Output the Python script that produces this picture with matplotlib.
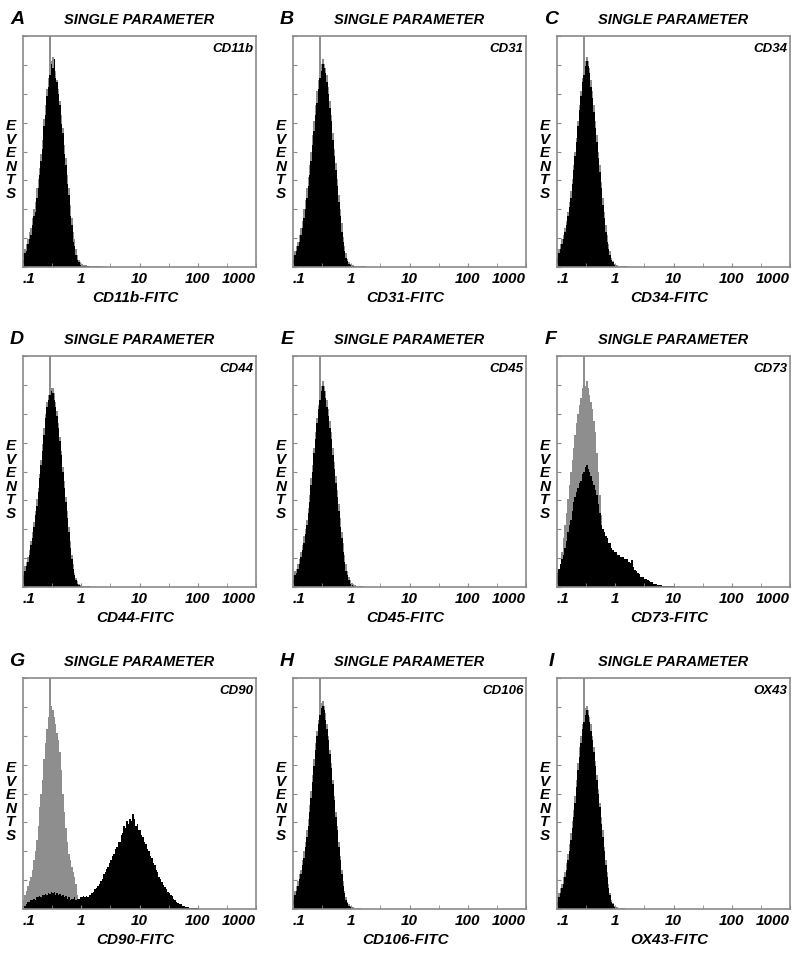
import numpy as np
import matplotlib
matplotlib.use("Agg")
import matplotlib.pyplot as plt
from matplotlib.ticker import FixedLocator, NullFormatter

# histogram counts, % of full scale, channels of 1/40 decade starting at 0.1
cd11b_black = [3, 6, 7, 10, 12, 14, 18, 22, 24, 30, 34, 40, 46, 51, 61, 66, 74, 78, 83, 88, 86, 90, 82, 80, 75,
               70, 62, 58, 49, 44, 36, 31, 22, 18, 11, 9, 5, 3, 2, 1, 0.5, 0.4, 0.3, 0.4, 0.3, 0.2]
cd11b_gray = [6, 8, 10, 12, 15, 17, 21, 25, 28, 34, 38, 43, 49, 55, 64, 70, 77, 82, 130, 89, 91, 88, 85, 81, 77,
              72, 66, 60, 53, 47, 40, 34, 27, 21, 15, 12, 8, 5, 3, 2, 1.3, 1, 0.8, 0.7, 0.6, 0.6, 0.5, 0.5, 0.4,
              0.4, 0.5, 0.3, 0.3, 0.4, 0.3, 0.2, 0.3, 0.2, 0.2, 0.2, 0.2]
cd31_black = [3, 5, 7, 9, 11, 14, 17, 21, 25, 30, 35, 40, 46, 53, 59, 66, 71, 77, 82, 85, 88, 86, 84, 80, 75, 69,
              63, 55, 48, 42, 35, 28, 22, 15, 11, 7, 4, 2.5, 1.5, 0.8, 0.5, 0.3]
cd31_gray = [5, 7, 9, 11, 14, 17, 20, 25, 29, 34, 39, 44, 50, 57, 63, 70, 76, 81, 130, 88, 90, 88, 86, 83, 78, 72,
             66, 58, 51, 45, 38, 31, 25, 19, 13, 9, 6, 3.5, 2.2, 1.3, 1, 0.7, 0.6, 0.5, 0.5, 0.4, 0.4, 0.3, 0.3,
             0.3, 0.2]
cd34_black = [4, 6, 8, 10, 12, 15, 18, 22, 26, 30, 36, 42, 48, 54, 61, 68, 74, 80, 83, 87, 89, 87, 84, 78, 73, 67,
              60, 54, 47, 41, 34, 27, 21, 15, 11, 8, 5, 3, 2, 1, 0.5]
cd34_gray = [6, 8, 10, 12, 14, 17, 20, 24, 28, 33, 38, 44, 50, 56, 63, 70, 76, 82, 130, 89, 91, 89, 86, 81, 76, 70,
             63, 57, 50, 44, 37, 30, 24, 18, 14, 10, 7, 4, 2.5, 1.5, 1, 0.7, 0.6, 0.5, 0.4, 0.4, 0.3, 0.3, 0.2]
cd44_black = [5, 7, 9, 11, 14, 18, 21, 26, 31, 35, 41, 47, 53, 59, 66, 73, 78, 81, 83, 85, 84, 81, 78, 74, 69, 63,
              57, 50, 43, 37, 30, 24, 17, 12, 8, 5, 3, 1.5, 1, 0.5]
cd44_gray = [7, 9, 11, 13, 16, 20, 24, 28, 33, 38, 43, 49, 55, 62, 69, 75, 80, 83, 130, 86, 86, 84, 80, 76, 71, 65,
             59, 52, 46, 39, 33, 26, 20, 14, 10, 6, 4, 2.5, 1.5, 1, 0.6, 0.5, 0.4, 0.4, 0.3, 0.3, 0.2]
cd45_black = [3, 5, 6, 8, 10, 13, 16, 19, 23, 27, 32, 37, 44, 50, 58, 64, 71, 77, 81, 85, 87, 85, 82, 78, 74, 69,
              64, 57, 51, 45, 39, 33, 26, 21, 15, 11, 7, 5, 3, 1.5, 1, 0.5]
cd45_gray = [5, 7, 8, 10, 12, 15, 18, 22, 25, 29, 34, 40, 47, 53, 60, 67, 73, 79, 130, 87, 89, 87, 85, 81, 77, 72,
             67, 60, 54, 48, 42, 36, 30, 24, 19, 14, 10, 7, 4.5, 3, 1.8, 1.2, 0.8, 0.6, 0.5, 0.4, 0.4, 0.3, 0.2]
cd73_black = [6, 8, 10, 12, 14, 17, 20, 24, 27, 29, 33, 37, 39, 41, 43, 45, 46, 49, 50, 52, 53, 51, 50, 48, 46,
              44, 42, 40, 36, 32, 27, 25, 24, 22, 21, 19, 19, 17, 16, 15, 15, 14, 14, 13, 13, 13, 12, 12, 12, 11,
              10.5, 11.5, 8.5, 7.5, 7, 6, 5.5, 4.5, 4.5, 4.5, 3.5, 3.5, 3, 2.5, 2, 2, 1.5, 1.5, 1.2, 1, 0.8, 0.8,
              0.6, 0.6, 0.5, 0.5, 0.4, 0.4, 0.3, 0.3, 0.3, 0.2]
cd73_gray = [4, 6, 10, 15, 21, 27, 32, 38, 44, 50, 55, 60, 66, 71, 75, 79, 82, 86, 130, 87, 89, 86, 83, 80, 77, 72,
             67, 58, 50, 40, 31, 25, 22, 18, 15, 12, 9, 7, 5, 3.5, 2.5, 1.8, 1.3, 1, 0.8, 0.7, 0.6, 0.5, 0.5, 0.4,
             0.4, 0.3, 0.3, 0.3, 0.2]
cd90_black = [0.5, 1.5, 2, 3, 3, 4, 4, 4.5, 4, 5, 5, 5.5, 5, 6, 6, 6.5, 6, 7, 6.5, 7.5, 7, 7.5, 6, 7, 6, 6.5, 5.5,
              6, 5, 5.5, 4.5, 5, 4, 4.5, 4.5, 5, 4, 4.5, 4.5, 5, 5, 5.5, 5, 5.5, 5, 6, 6, 7, 7.5, 8.5, 9, 10, 11,
              12, 13, 15, 16, 17.5, 18, 20, 21, 23, 24, 26, 27, 29, 29, 32, 33, 36, 35, 38, 37, 39, 38, 41, 39,
              36, 37, 34, 34, 32, 31, 29, 28, 26, 25, 23, 22, 20, 19, 17, 16, 14, 13, 11.5, 10.5, 9.5, 8.5, 7.5,
              7, 6, 5.5, 4.5, 4, 3, 2.8, 2.2, 2, 1.5, 1.3, 1, 0.9, 0.7, 0.6, 0.5, 0.5, 0.4, 0.4, 0.3, 0.3, 0.2]
cd90_gray = [4, 6, 8, 10, 12, 14, 17, 21, 25, 30, 36, 44, 50, 56, 65, 72, 78, 83, 130, 88, 86, 83, 80, 76, 73, 68,
             60, 50, 42, 35, 29, 24, 21, 18, 16, 14, 11, 6, 3, 1.5, 0.8, 0.5, 0.4, 0.3, 0.3, 0.2]
cd106_black = [4, 6, 8, 10, 13, 15, 19, 22, 27, 31, 36, 42, 48, 55, 62, 69, 75, 80, 84, 87, 88, 86, 82, 78, 73,
               67, 61, 54, 47, 40, 34, 27, 21, 15, 10, 7, 4, 2.5, 1.5, 0.8, 0.5]
cd106_gray = [6, 8, 10, 12, 15, 17, 21, 25, 29, 34, 39, 45, 51, 58, 65, 72, 77, 82, 130, 89, 90, 88, 85, 80, 75,
              69, 63, 56, 49, 42, 36, 29, 23, 17, 12, 8, 5, 3, 2, 1.2, 0.9, 0.7, 0.5, 0.4, 0.4, 0.3, 0.3, 0.2]
ox43_black = [3, 5, 7, 9, 11, 14, 17, 21, 25, 30, 35, 40, 46, 53, 60, 66, 72, 78, 81, 84, 86, 84, 81, 77, 73, 68,
              62, 56, 50, 44, 37, 31, 25, 19, 14, 9, 6, 3, 2, 1, 0.5]
ox43_gray = [5, 7, 9, 11, 14, 16, 20, 24, 28, 33, 38, 43, 49, 56, 63, 70, 75, 80, 130, 87, 88, 86, 83, 80, 75, 70,
             64, 58, 52, 46, 40, 34, 27, 21, 16, 11, 7, 4, 2.5, 1.5, 1, 0.7, 0.5, 0.4, 0.4, 0.3, 0.3, 0.2]

letters = ["A", "B", "C", "D", "E", "F", "G", "H", "I"]
markers = ["CD11b", "CD31", "CD34", "CD44", "CD45", "CD73", "CD90", "CD106", "OX43"]
blacks = [cd11b_black, cd31_black, cd34_black, cd44_black, cd45_black, cd73_black, cd90_black, cd106_black,
          ox43_black]
grays = [cd11b_gray, cd31_gray, cd34_gray, cd44_gray, cd45_gray, cd73_gray, cd90_gray, cd106_gray, ox43_gray]
tick_vals = [0.1, 1, 10, 100, 1000]
tick_labels = [".1", "1", "10", "100", "1000"]

W, H = 800, 954
col_left = [23, 293, 557]
row_top = [37, 357, 679]
ax_w, ax_h = 233, 231
edges = np.logspace(-1, 3, 161)

FONT = dict(family="Liberation Sans", weight="bold", style="italic")
SPINE = "#8a8a8a"
GRAY = "#8e8e8e"

fig = plt.figure(figsize=(W / 100, H / 100), dpi=100)


def fx(px):
    return px / W


def fy(py):
    return 1 - py / H


for i in range(9):
    left = col_left[i % 3]
    top = row_top[i // 3]
    ax = fig.add_axes([fx(left), fy(top + ax_h), ax_w / W, ax_h / H])
    g = grays[i]
    b = blacks[i]
    ax.stairs(g, edges[:len(g) + 1], fill=True, color=GRAY, linewidth=0)
    ax.stairs(b, edges[:len(b) + 1], fill=True, color="black", linewidth=0)
    ax.set_xscale("log")
    ax.set_xlim(0.1, 1000)
    ax.set_ylim(0, 100)
    for s in ax.spines.values():
        s.set_color(SPINE)
        s.set_linewidth(1.2)
    ax.xaxis.set_major_locator(FixedLocator(tick_vals))
    ax.xaxis.set_minor_locator(FixedLocator([10 ** -0.5, 10 ** 0.5, 10 ** 1.5, 10 ** 2.5]))
    ax.xaxis.set_minor_formatter(NullFormatter())
    ax.set_xticklabels(tick_labels, fontsize=11, **FONT)
    labs = ax.get_xticklabels()
    labs[0].set_ha("left")
    labs[-1].set_ha("right")
    ax.tick_params(axis="x", which="both", direction="in", length=3, color=SPINE, pad=3)
    ax.set_yticks(np.arange(0, 101, 12.5))
    ax.set_yticklabels([])
    ax.tick_params(axis="y", direction="in", length=3, color=SPINE)

    ax.text(0.99, 0.975, markers[i], transform=ax.transAxes, ha="right", va="top", fontsize=9.5, **FONT)
    fig.text(fx(left - 6), fy(top - 18), letters[i], ha="center", va="center", fontsize=14, **FONT)
    fig.text(fx(left + ax_w / 2), fy(top - 17), "SINGLE PARAMETER", ha="center", va="center",
             fontsize=10.5, **FONT)
    fig.text(fx(left + ax_w / 2 - 4), fy(top + ax_h + 30), markers[i] + "-FITC", ha="center", va="center",
             fontsize=11, **FONT)
    fig.text(fx(left - 12), fy(top + 123), "E\nV\nE\nN\nT\nS", ha="center", va="center", fontsize=11,
             linespacing=0.95, **FONT)

fig.savefig("out.png", dpi=100)
